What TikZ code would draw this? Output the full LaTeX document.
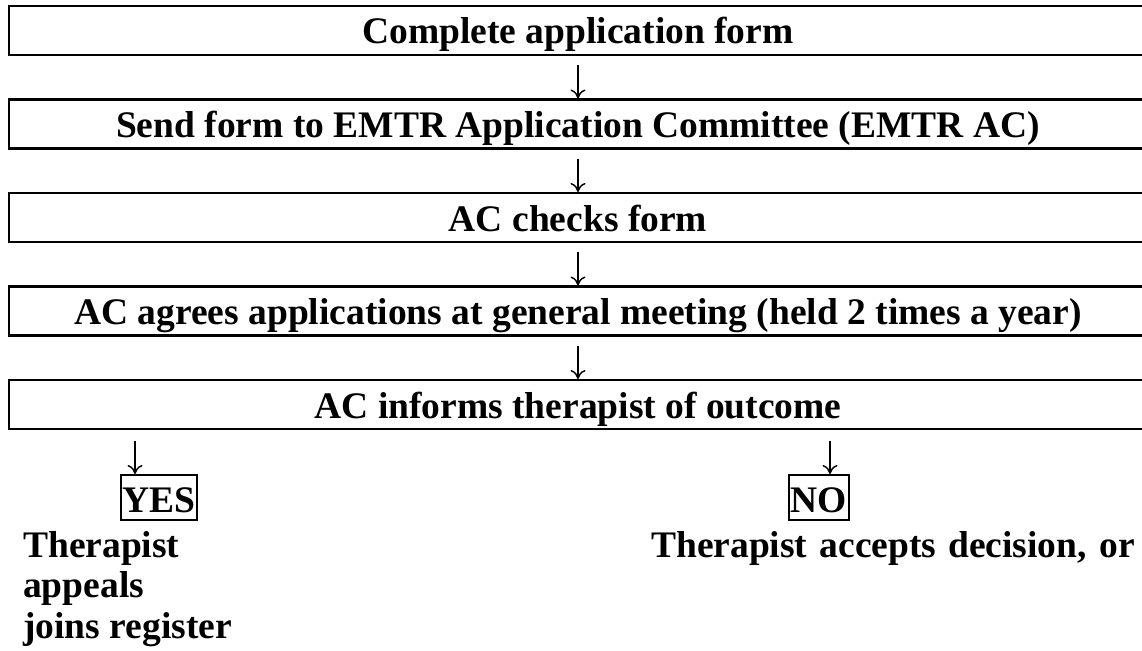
\documentclass[tikz,border=0pt]{standalone}
\usepackage{fontspec}
\setmainfont{Liberation Serif}
\usetikzlibrary{positioning,arrows.meta}
\tikzset{
  stage/.style={draw,line width=2.5pt,minimum width=1138pt,minimum height=49pt,
    text height=38pt,text depth=11pt,inner sep=0pt,outer sep=0pt,
    font=\bfseries\fontsize{37.5}{40.5}\selectfont},
  answer/.style={draw,line width=2pt,minimum height=45pt,inner sep=1.5pt,
    text height=36pt,text depth=6pt,outer sep=0pt,
    font=\bfseries\fontsize{37.5}{40.5}\selectfont},
  note/.style={anchor=north west,inner sep=0pt,align=left,
    font=\bfseries\fontsize{37.5}{40.5}\selectfont},
  flow/.style={line width=1.4pt,-{To[length=9pt,width=15pt]}}
}
\begin{document}
\begin{tikzpicture}[x=1pt,y=-1pt,node distance=44.5pt]
  \useasboundingbox (0,0) rectangle (1142,650);
  \clip (0,0) rectangle (1142,650);
  \node[stage] (form) at (578,30.5) {Complete application form};
  \node[stage,below=of form] (send) {Send form to EMTR Application Committee (EMTR AC)};
  \node[stage,below=of send] (check) {AC checks form};
  \node[stage,below=of check] (meet) {AC agrees applications at general meeting (held 2 times a year)};
  \node[stage,below=of meet] (outcome) {AC informs therapist of outcome};
  \node[answer] (yes) at (159,497.5) {YES};
  \node[answer] (no) at (819,497.5) {NO};
  \coordinate (yesend) at (135,474);
  \coordinate (noend) at (830,474);
  \node[note] (yesnote) at (23,531) {Therapist\\appeals\\joins register};
  \node[note] (nonote) at (651,531) {\makebox[484pt][s]{Therapist accepts decision, or}};
  \begin{scope}[flow]
    \draw[shorten <=10pt,shorten >=1pt] (form) -- (send);
    \draw[shorten <=10pt,shorten >=1pt] (send) -- (check);
    \draw[shorten <=10pt,shorten >=1pt] (check) -- (meet);
    \draw[shorten <=10pt,shorten >=1pt] (meet) -- (outcome);
    \draw[shorten <=12pt] (yesend |- outcome.south) -- (yesend);
    \draw[shorten <=12pt] (noend |- outcome.south) -- (noend);
  \end{scope}
\end{tikzpicture}
\end{document}
